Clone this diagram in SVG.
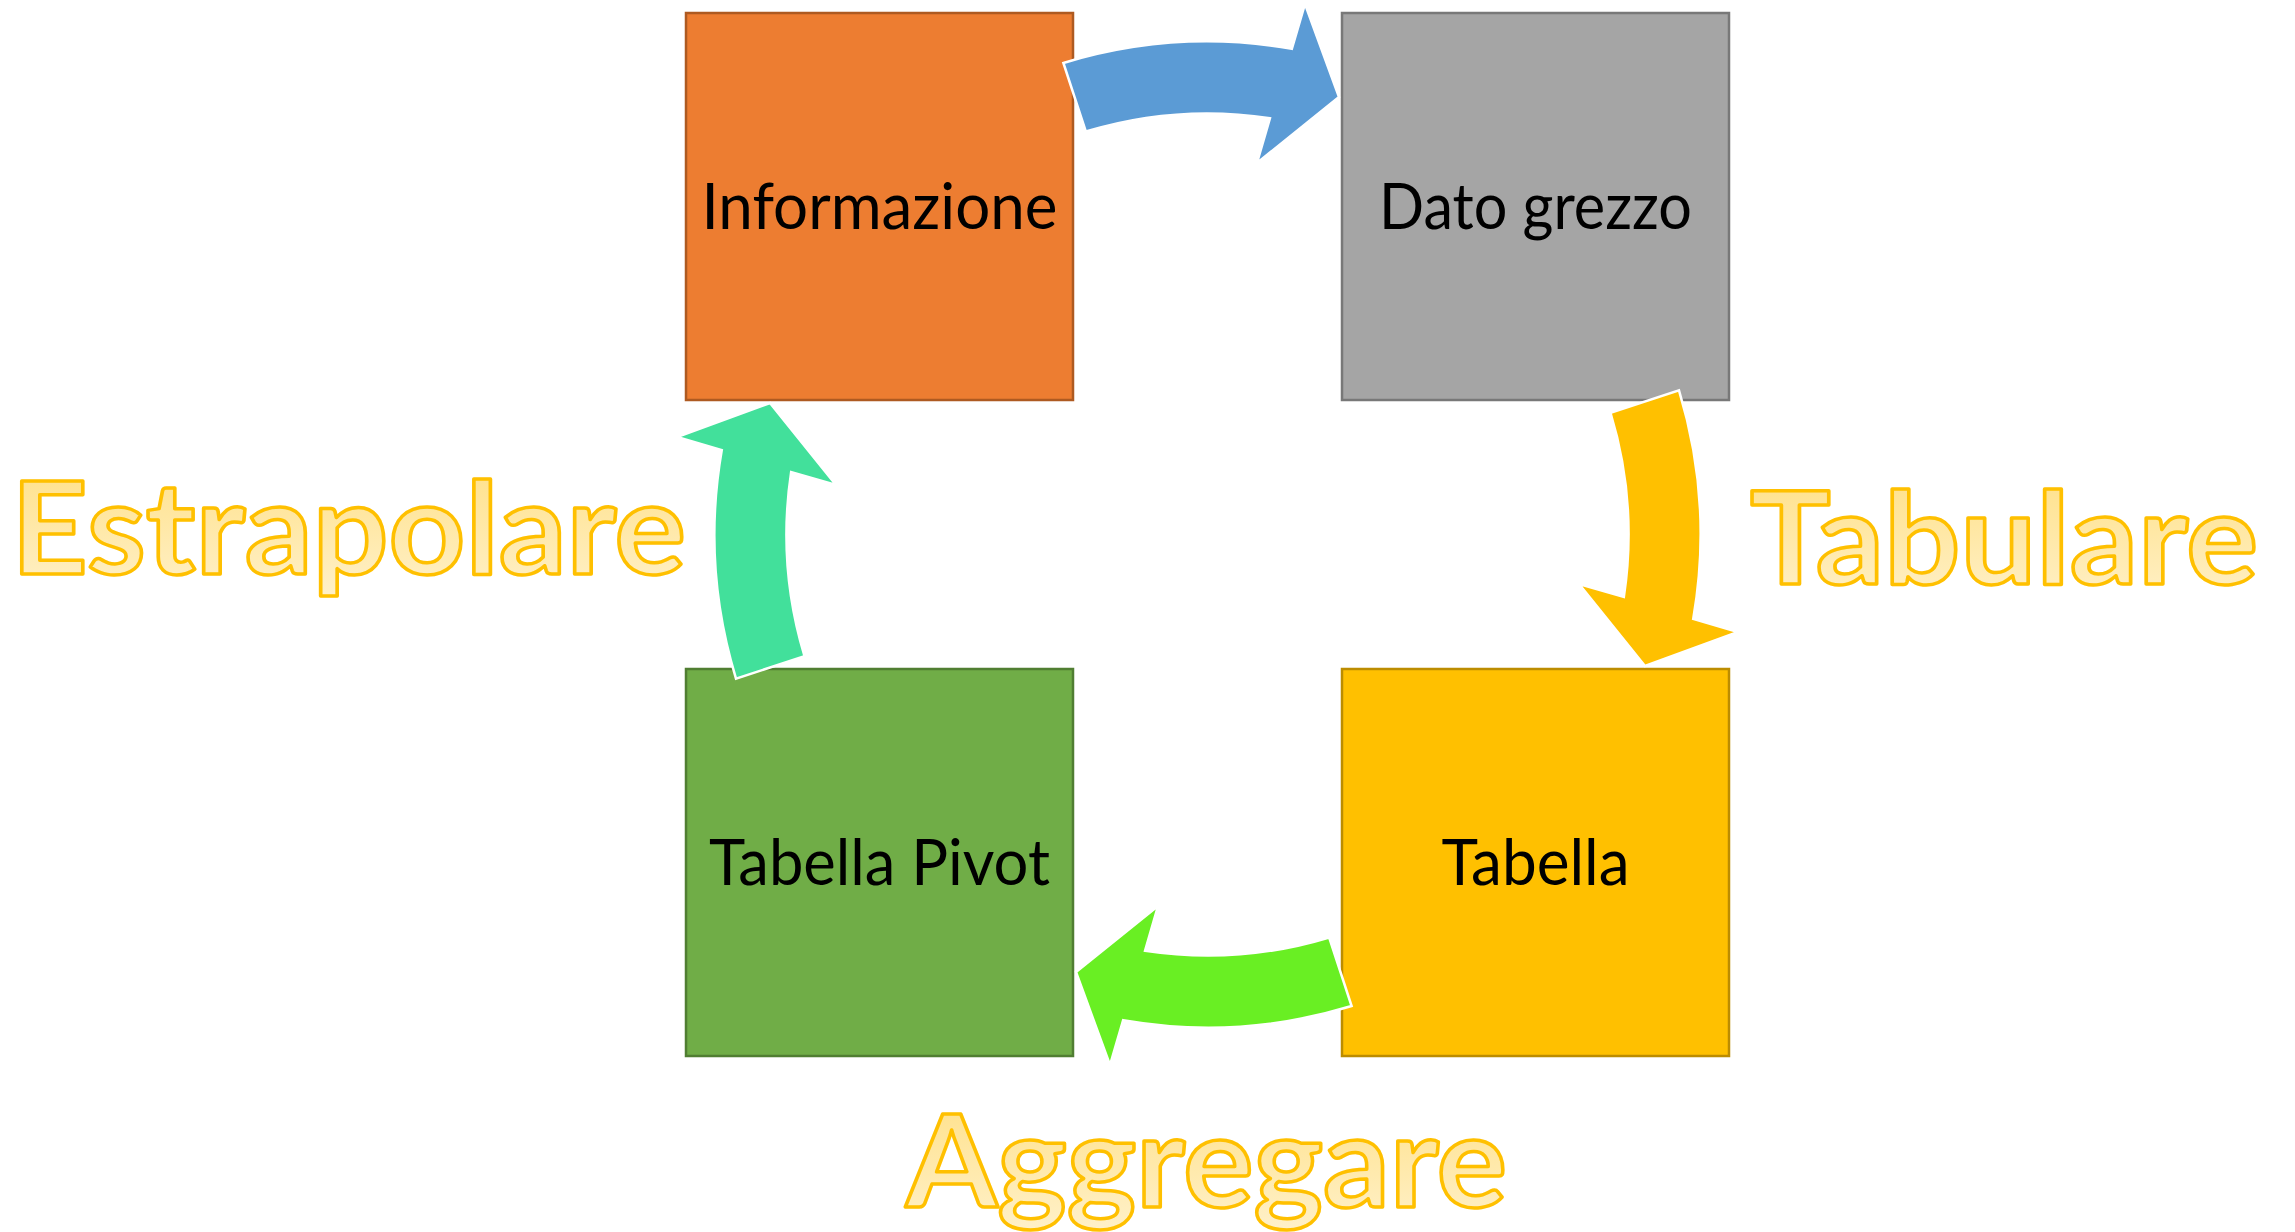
<svg xmlns="http://www.w3.org/2000/svg" xmlns:xlink="http://www.w3.org/1999/xlink" width="2295" height="1232" viewBox="0 0 2295 1232">
  <style>
    .box { stroke-width: 2.5; }
    .lbl { font-family: Lato, "Open Sans", "Liberation Sans", sans-serif; font-size: 64px; fill: #000; text-anchor: middle; }
    .big { font-family: Lato, "Open Sans", "Liberation Sans", sans-serif; font-weight: bold; font-size: 129px; fill: url(#wordGrad); stroke: #FFC000; stroke-width: 3.5; stroke-linejoin: round; }
    .arrow { stroke: #FFFFFF; stroke-width: 2.5; stroke-linejoin: miter; }
  </style>
  <defs>
    <linearGradient id="wordGrad" x1="0" y1="0" x2="0" y2="1">
      <stop offset="0" stop-color="#FFDF82"/>
      <stop offset="1" stop-color="#FFF1CB"/>
    </linearGradient>
    <path id="arr" d="M 1063.4,63.0 A 493 493 0 0 1 1291.85,48.77 L 1305,4 L 1339,97 L 1257,163 L 1269.95,118.16 A 421 421 0 0 0 1085.8,131.5 Z"/>
  </defs>
  <rect width="2295" height="1232" fill="#FFFFFF"/>

  <g id="node-informazione">
    <rect class="box" x="686" y="13" width="387" height="387" fill="#ED7D31" stroke="#AE5A21"/>
    <text class="lbl" x="879.5" y="229" textLength="356" lengthAdjust="spacingAndGlyphs">Informazione</text>
  </g>
  <g id="node-dato-grezzo">
    <rect class="box" x="1342" y="13" width="387" height="387" fill="#A5A5A5" stroke="#787878"/>
    <text class="lbl" x="1535.5" y="229" textLength="313" lengthAdjust="spacingAndGlyphs">Dato grezzo</text>
  </g>
  <g id="node-tabella">
    <rect class="box" x="1342" y="669" width="387" height="387" fill="#FFC000" stroke="#BC8C00"/>
    <text class="lbl" x="1535.5" y="885" textLength="188" lengthAdjust="spacingAndGlyphs">Tabella</text>
  </g>
  <g id="node-tabella-pivot">
    <rect class="box" x="686" y="669" width="387" height="387" fill="#70AD47" stroke="#507E32"/>
    <text class="lbl" x="879.5" y="885" textLength="341" lengthAdjust="spacingAndGlyphs">Tabella Pivot</text>
  </g>

  <g id="connectors">
    <use xlink:href="#arr" href="#arr" class="arrow" fill="#5B9BD5"/>
    <use xlink:href="#arr" href="#arr" class="arrow" fill="#FFC000" transform="rotate(90 1207.5 534.5)"/>
    <use xlink:href="#arr" href="#arr" class="arrow" fill="#69EF23" transform="rotate(180 1207.5 534.5)"/>
    <use xlink:href="#arr" href="#arr" class="arrow" fill="#42E09B" transform="rotate(270 1207.5 534.5)"/>
  </g>

  <g id="labels">
    <text class="big" x="11" y="574" textLength="675" lengthAdjust="spacingAndGlyphs">Estrapolare</text>
    <text class="big" x="1750" y="584" textLength="508" lengthAdjust="spacingAndGlyphs">Tabulare</text>
    <text class="big" x="906" y="1207" textLength="601" lengthAdjust="spacingAndGlyphs">Aggregare</text>
  </g>
</svg>
